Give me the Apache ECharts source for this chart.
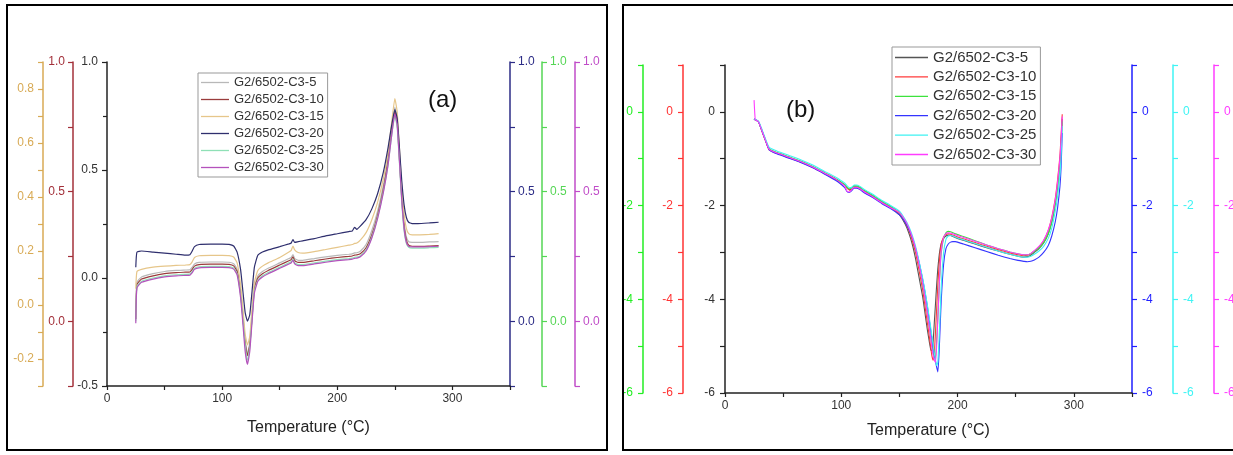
<!DOCTYPE html>
<html>
<head>
<meta charset="utf-8">
<script src="https://cdn.jsdelivr.net/npm/echarts@6/dist/echarts.min.js"></script>
<style>
  html, body { margin: 0; padding: 0; background: #fff; }
  #chart { width: 1233px; height: 455px; }
</style>
</head>
<body>
<div id="chart"></div>
<script>
// ---- Series names (shared by both panels) ----
const seriesNames = ['G2/6502-C3-5', 'G2/6502-C3-10', 'G2/6502-C3-15', 'G2/6502-C3-20', 'G2/6502-C3-25', 'G2/6502-C3-30'];

// ---- Panel (a): temperature (°C) ----
const tempA = [25,26,30,40,50,60,68,72,74,76,80,90,100,106,110,113,116,118,120,122,124,126,128,131,135,140,150,158,160,161.5,163,166,170,180,190,200,210,213,215,217,220,225,230,235,240,244,247,250,252,254,256,258,260,262,265,270,280,288];

const a_C3_5 = [-0.19,-0.02,0.005,0.02,0.03,0.035,0.037,0.038,0.05,0.065,
  0.072,0.074,0.074,0.073,0.066,0.04,-0.06,-0.17,-0.29,-0.35,
  -0.3,-0.17,-0.04,0.01,0.03,0.045,0.07,0.09,0.095,0.108,
  0.09,0.082,0.082,0.09,0.098,0.105,0.11,0.112,0.116,0.117,
  0.124,0.155,0.22,0.31,0.43,0.56,0.69,0.79,0.74,0.57,
  0.39,0.26,0.19,0.168,0.165,0.165,0.167,0.168];
const a_C3_10 = [-0.19,-0.03,-0.005,0.01,0.02,0.025,0.027,0.028,0.04,0.055,
  0.062,0.064,0.064,0.063,0.056,0.03,-0.07,-0.18,-0.3,-0.36,
  -0.31,-0.18,-0.05,0.0,0.02,0.035,0.06,0.08,0.085,0.098,
  0.08,0.072,0.072,0.08,0.088,0.095,0.1,0.102,0.106,0.107,
  0.112,0.14,0.2,0.29,0.41,0.54,0.67,0.77,0.72,0.55,
  0.37,0.24,0.175,0.152,0.147,0.146,0.148,0.15];
const a_C3_15 = [-0.05,0.03,0.04,0.05,0.055,0.058,0.06,0.062,0.075,0.095,
  0.103,0.105,0.105,0.104,0.097,0.07,-0.03,-0.14,-0.26,-0.31,
  -0.27,-0.14,-0.02,0.035,0.055,0.07,0.095,0.12,0.128,0.148,
  0.13,0.118,0.115,0.122,0.132,0.142,0.152,0.155,0.16,0.162,
  0.175,0.21,0.27,0.35,0.46,0.58,0.71,0.83,0.77,0.6,
  0.42,0.3,0.23,0.205,0.2,0.2,0.202,0.205];
const a_C3_20 = [0.05,0.12,0.125,0.12,0.115,0.11,0.106,0.108,0.125,0.145,
  0.155,0.157,0.157,0.156,0.148,0.12,0.04,-0.06,-0.16,-0.2,
  -0.17,-0.06,0.05,0.105,0.12,0.13,0.145,0.158,0.162,0.178,
  0.165,0.168,0.172,0.182,0.195,0.205,0.215,0.218,0.235,0.225,
  0.24,0.27,0.32,0.39,0.49,0.6,0.7,0.78,0.74,0.6,
  0.45,0.34,0.28,0.258,0.252,0.252,0.255,0.258];
const a_C3_25 = [-0.2,-0.04,-0.015,0.0,0.01,0.015,0.017,0.018,0.03,0.045,
  0.052,0.054,0.054,0.053,0.046,0.02,-0.08,-0.19,-0.31,-0.38,
  -0.32,-0.19,-0.06,-0.01,0.01,0.025,0.05,0.07,0.075,0.088,
  0.07,0.062,0.062,0.07,0.078,0.085,0.09,0.092,0.096,0.097,
  0.102,0.13,0.19,0.28,0.4,0.52,0.65,0.75,0.7,0.53,
  0.35,0.22,0.16,0.142,0.138,0.138,0.14,0.142];
const a_C3_30 = [-0.21,-0.045,-0.02,-0.005,0.005,0.01,0.012,0.013,0.025,0.04,
  0.047,0.049,0.049,0.048,0.041,0.015,-0.09,-0.21,-0.34,-0.4,
  -0.34,-0.2,-0.07,-0.015,0.005,0.02,0.045,0.065,0.07,0.083,
  0.065,0.057,0.057,0.065,0.073,0.08,0.085,0.087,0.091,0.092,
  0.098,0.125,0.185,0.275,0.395,0.52,0.65,0.76,0.71,0.54,
  0.36,0.23,0.165,0.147,0.144,0.144,0.145,0.147];

// ---- Panel (b): temperature (°C) ----
const tempB = [25,26,27,29,32,35,38,45,55,65,75,85,95,100,103,105,107,109,111,113,116,120,127,135,142,150,155,158,161,164,167,170,172,174,176,177,178,179,180,181,182,183,184,185,186,188,190,192,194,196,198,200,205,215,225,235,245,252,257,260,263,266,270,274,278,281,284,286,288,289,290];

const b_C3_5 = [-0.15,-0.17,-0.18,-0.22,-0.42,-0.62,-0.8,-0.88,-0.97,-1.06,
  -1.17,-1.3,-1.43,-1.51,-1.56,-1.62,-1.66,-1.65,-1.6,-1.6,
  -1.63,-1.7,-1.8,-1.93,-2.03,-2.2,-2.4,-2.58,-2.82,-3.15,
  -3.55,-3.95,-4.3,-4.65,-4.95,-5.08,-5.1,-4.9,-4.5,-4.1,
  -3.7,-3.35,-3.1,-2.92,-2.8,-2.7,-2.65,-2.63,-2.64,-2.66,
  -2.68,-2.7,-2.74,-2.82,-2.9,-2.97,-3.04,-3.08,-3.1,-3.09,
  -3.06,-3.0,-2.92,-2.8,-2.6,-2.35,-1.95,-1.6,-1.1,-0.7,-0.15];
const b_C3_10 = [-0.15,-0.17,-0.18,-0.22,-0.43,-0.63,-0.81,-0.89,-0.98,-1.07,
  -1.18,-1.31,-1.44,-1.52,-1.57,-1.63,-1.67,-1.66,-1.61,-1.61,
  -1.64,-1.71,-1.81,-1.94,-2.04,-2.17,-2.36,-2.52,-2.74,-3.02,
  -3.4,-3.8,-4.15,-4.5,-4.85,-5.05,-5.22,-5.3,-5.15,-4.7,
  -4.2,-3.7,-3.3,-3.0,-2.82,-2.67,-2.62,-2.6,-2.61,-2.63,
  -2.65,-2.67,-2.71,-2.79,-2.87,-2.94,-3.01,-3.05,-3.07,-3.06,
  -3.03,-2.97,-2.88,-2.75,-2.53,-2.25,-1.85,-1.45,-0.95,-0.5,-0.05];
const b_C3_15 = [-0.15,-0.17,-0.18,-0.22,-0.41,-0.61,-0.79,-0.87,-0.96,-1.05,
  -1.16,-1.29,-1.42,-1.5,-1.55,-1.61,-1.64,-1.62,-1.58,-1.58,
  -1.61,-1.68,-1.78,-1.91,-2.01,-2.15,-2.33,-2.48,-2.68,-2.94,
  -3.28,-3.68,-3.98,-4.3,-4.65,-4.82,-5.0,-5.15,-5.22,-5.25,
  -4.9,-4.4,-3.85,-3.35,-3.0,-2.7,-2.58,-2.55,-2.56,-2.58,
  -2.6,-2.62,-2.66,-2.75,-2.84,-2.92,-2.99,-3.03,-3.05,-3.05,
  -3.03,-2.98,-2.9,-2.79,-2.6,-2.36,-1.98,-1.62,-1.15,-0.75,-0.2];
const b_C3_20 = [-0.15,-0.17,-0.18,-0.22,-0.42,-0.62,-0.81,-0.9,-0.99,-1.08,
  -1.19,-1.32,-1.46,-1.55,-1.62,-1.7,-1.72,-1.68,-1.63,-1.63,
  -1.66,-1.73,-1.83,-1.96,-2.06,-2.2,-2.36,-2.5,-2.68,-2.92,
  -3.22,-3.58,-3.85,-4.15,-4.5,-4.68,-4.85,-5.02,-5.18,-5.32,
  -5.45,-5.55,-5.2,-4.6,-4.0,-3.25,-2.92,-2.82,-2.78,-2.77,
  -2.77,-2.78,-2.82,-2.9,-2.98,-3.06,-3.13,-3.17,-3.19,-3.2,
  -3.19,-3.16,-3.1,-3.0,-2.85,-2.65,-2.35,-2.05,-1.6,-1.2,-0.45];
const b_C3_25 = [-0.15,-0.16,-0.17,-0.2,-0.39,-0.59,-0.76,-0.84,-0.93,-1.02,
  -1.13,-1.26,-1.39,-1.47,-1.52,-1.58,-1.62,-1.61,-1.56,-1.56,
  -1.59,-1.66,-1.76,-1.89,-1.99,-2.12,-2.3,-2.44,-2.63,-2.88,
  -3.2,-3.55,-3.82,-4.12,-4.45,-4.62,-4.8,-4.98,-5.15,-5.3,
  -5.42,-5.35,-4.9,-4.3,-3.7,-3.0,-2.72,-2.65,-2.64,-2.65,
  -2.67,-2.69,-2.73,-2.81,-2.89,-2.97,-3.04,-3.08,-3.1,-3.1,
  -3.08,-3.04,-2.97,-2.87,-2.7,-2.48,-2.12,-1.8,-1.35,-0.95,-0.3];
const b_C3_30 = [0.25,-0.17,-0.18,-0.22,-0.42,-0.62,-0.8,-0.88,-0.97,-1.06,
  -1.17,-1.3,-1.43,-1.52,-1.58,-1.7,-1.71,-1.66,-1.61,-1.61,
  -1.64,-1.71,-1.81,-1.94,-2.04,-2.15,-2.32,-2.47,-2.67,-2.93,
  -3.28,-3.66,-3.98,-4.3,-4.65,-4.85,-5.05,-5.2,-5.3,-5.35,
  -5.0,-4.45,-3.85,-3.3,-2.95,-2.68,-2.6,-2.58,-2.59,-2.6,
  -2.62,-2.64,-2.68,-2.76,-2.84,-2.92,-2.99,-3.03,-3.05,-3.05,
  -3.02,-2.96,-2.87,-2.74,-2.52,-2.27,-1.88,-1.5,-1.0,-0.6,-0.1];

// ---- Axis tick labels ----
const xTickLabels = [0, 100, 200, 300];
const yLabelsA = ['-0.5', '0.0', '0.5', '1.0'];
const yLabelsB = ['-6', '-4', '-2', '0'];

const valuesA = [a_C3_5, a_C3_10, a_C3_15, a_C3_20, a_C3_25, a_C3_30];
const valuesB = [b_C3_5, b_C3_10, b_C3_15, b_C3_20, b_C3_25, b_C3_30];
const colorsA = ['#b8b8b8', '#9a3c3c', '#e6c68a', '#2f2f6e', '#8fe0b6', '#b452bc'];
const colorsB = ['#555555', '#ff3b3b', '#3de23d', '#3434ff', '#3ef2f2', '#ff3cff'];

const FONT = 'Liberation Sans, Arial, sans-serif';

function near(v, step) {
  const q = v / step;
  return Math.abs(q - Math.round(q)) < 1e-6;
}

function yAxisDef(o) {
  return {
    type: 'value',
    gridIndex: o.grid,
    position: o.pos,
    offset: o.offset,
    min: o.min, max: o.max, interval: o.interval,
    splitLine: { show: false },
    axisLine: { show: true, onZero: false, lineStyle: { color: o.color, width: 1.5 } },
    axisTick: { show: true, length: 5, lineStyle: { color: o.color, width: 1.2 } },
    minorTick: o.minor ? { show: true, splitNumber: 2, length: 4, lineStyle: { color: o.color, width: 1.2 } } : { show: false },
    axisLabel: {
      color: o.labelColor || o.color,
      fontSize: 12,
      fontFamily: FONT,
      margin: o.margin,
      formatter: o.fmt
    }
  };
}

const fmtA = v => (near(v, 0.5) && yLabelsA.indexOf(v.toFixed(1)) >= 0) ? v.toFixed(1) : '';
const fmtA5 = v => near(v, 0.5) ? (Math.abs(v) < 1e-9 ? '0.0' : v.toFixed(1)) : '';
const fmtA2 = v => near(v, 0.2) ? (Math.abs(v) < 1e-9 ? '0.0' : v.toFixed(1)) : '';
const fmtB = v => (near(v, 2) && yLabelsB.indexOf(String(Math.round(v) || 0)) >= 0) ? String(Math.round(v) || 0) : '';

const yAxes = [
  // panel (a)
  yAxisDef({ grid: 0, pos: 'left', offset: 0, min: -0.5, max: 1.0, interval: 0.5, color: '#222', labelColor: '#333', minor: true, margin: 9, fmt: fmtA }),
  yAxisDef({ grid: 0, pos: 'left', offset: 34, min: -0.25, max: 1.0, interval: 0.25, color: '#a3303a', margin: 8, fmt: fmtA5 }),
  yAxisDef({ grid: 0, pos: 'left', offset: 64, min: -0.3, max: 0.9, interval: 0.1, color: '#d8aa55', margin: 9, fmt: fmtA2 }),
  yAxisDef({ grid: 0, pos: 'right', offset: 0, min: -0.25, max: 1.0, interval: 0.25, color: '#2c2c86', margin: 8, fmt: fmtA5 }),
  yAxisDef({ grid: 0, pos: 'right', offset: 32, min: -0.25, max: 1.0, interval: 0.25, color: '#55d655', margin: 8, fmt: fmtA5 }),
  yAxisDef({ grid: 0, pos: 'right', offset: 65, min: -0.25, max: 1.0, interval: 0.25, color: '#c04cc8', margin: 8, fmt: fmtA5 }),
  // panel (b)
  yAxisDef({ grid: 1, pos: 'left', offset: 0, min: -6, max: 1, interval: 1, color: '#222', labelColor: '#333', margin: 10, fmt: fmtB }),
  yAxisDef({ grid: 1, pos: 'left', offset: 42, min: -6, max: 1, interval: 1, color: '#ff3333', margin: 10, fmt: fmtB }),
  yAxisDef({ grid: 1, pos: 'left', offset: 82, min: -6, max: 1, interval: 1, color: '#22ee22', margin: 10, fmt: fmtB }),
  yAxisDef({ grid: 1, pos: 'right', offset: 0, min: -6, max: 1, interval: 1, color: '#1f1fff', margin: 10, fmt: fmtB }),
  yAxisDef({ grid: 1, pos: 'right', offset: 41, min: -6, max: 1, interval: 1, color: '#3ff4f4', margin: 10, fmt: fmtB }),
  yAxisDef({ grid: 1, pos: 'right', offset: 82, min: -6, max: 1, interval: 1, color: '#ff3cff', margin: 10, fmt: fmtB })
];

function xAxisDef(grid, nameGap) {
  return {
    type: 'value',
    gridIndex: grid,
    min: 0, max: 350, interval: 50,
    name: 'Temperature (°C)',
    nameLocation: 'middle',
    nameGap: nameGap,
    nameTextStyle: { fontSize: 16, fontFamily: FONT, color: '#222' },
    splitLine: { show: false },
    axisLine: { onZero: false, lineStyle: { color: '#222', width: 1.5 } },
    axisTick: { length: 4, lineStyle: { color: '#222', width: 1.2 } },
    axisLabel: {
      fontSize: 12, fontFamily: FONT, color: '#333', margin: 7,
      formatter: v => xTickLabels.indexOf(v) >= 0 ? String(v) : ''
    }
  };
}

const series = [];
seriesNames.forEach((name, i) => {
  series.push({
    name, type: 'line', xAxisIndex: 0, yAxisIndex: 0,
    data: tempA.map((t, k) => [t, valuesA[i][k]]),
    showSymbol: false, symbol: 'none', smooth: 0.15,
    lineStyle: { color: colorsA[i], width: 1.2 }, itemStyle: { color: colorsA[i] }
  });
});
seriesNames.forEach((name, i) => {
  series.push({
    name, type: 'line', xAxisIndex: 1, yAxisIndex: 6,
    data: tempB.map((t, k) => [t, valuesB[i][k]]),
    showSymbol: false, symbol: 'none', smooth: 0.15,
    lineStyle: { color: colorsB[i], width: 1.1 }, itemStyle: { color: colorsB[i] }
  });
});

// Legend keys are plain short strokes in the series colour
function legendDef(left, top, colors, fontSize, itemWidth, gap) {
  return {
    orient: 'vertical', left: left, top: top,
    backgroundColor: '#fff',
    borderColor: '#999', borderWidth: 1, borderRadius: 0,
    padding: [3, 4, 3, 3],
    icon: 'rect',
    itemWidth: itemWidth, itemHeight: 1.3, itemGap: gap,
    selectedMode: false,
    textStyle: { fontSize: fontSize, lineHeight: fontSize, fontFamily: FONT, color: '#333' },
    data: seriesNames.map((n, i) => ({
      name: n,
      itemStyle: { color: colors[i], borderWidth: 0 }
    }))
  };
}

const chart = echarts.init(document.getElementById('chart'), null, { renderer: 'canvas' });
chart.setOption({
  animation: false,
  backgroundColor: '#fff',
  grid: [
    { left: 107, top: 62, width: 403, height: 324, outerBoundsMode: 'none', containLabel: false },
    { left: 725, top: 65, width: 407, height: 328, outerBoundsMode: 'none', containLabel: false }
  ],
  xAxis: [xAxisDef(0, 34), xAxisDef(1, 30)],
  yAxis: yAxes,
  legend: [
    legendDef(198, 73, colorsA, 13, 28, 4),
    legendDef(892, 47, colorsB, 15, 33, 4.4)
  ],
  series: series,
  graphic: [
    { type: 'rect', shape: { x: 7, y: 5, width: 600, height: 445 }, style: { fill: 'none', stroke: '#000', lineWidth: 2 }, z: 100 },
    { type: 'rect', shape: { x: 623, y: 5, width: 640, height: 445 }, style: { fill: 'none', stroke: '#000', lineWidth: 2 }, z: 100 },
    { type: 'text', left: 428, top: 88, style: { text: '(a)', font: '24px ' + FONT, fill: '#111' } },
    { type: 'text', left: 786, top: 98, style: { text: '(b)', font: '24px ' + FONT, fill: '#111' } }
  ]
});
</script>
</body>
</html>
